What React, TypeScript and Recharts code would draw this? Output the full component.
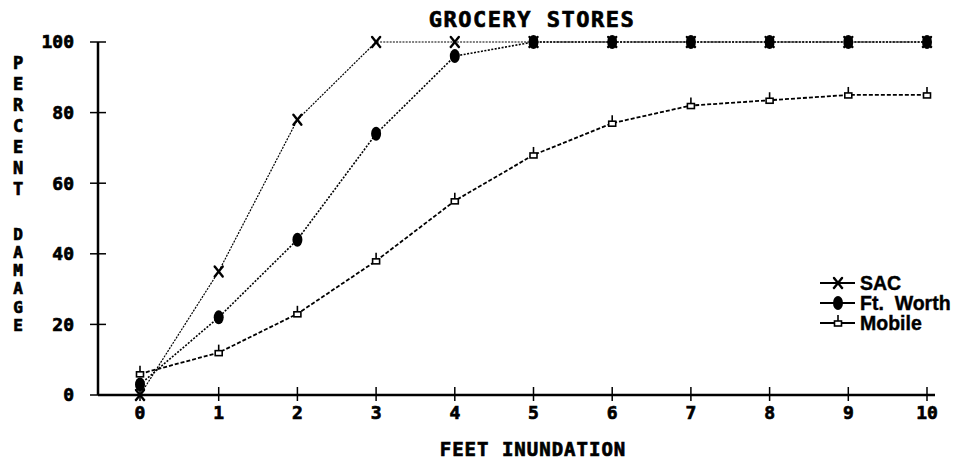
import React from "react";
import { LineChart, Line, XAxis, YAxis } from "recharts";

const feet = [0, 1, 2, 3, 4, 5, 6, 7, 8, 9, 10];
const sac = [0, 35, 78, 100, 100, 100, 100, 100, 100, 100, 100];
const ftWorth = [3, 22, 44, 74, 96, 100, 100, 100, 100, 100, 100];
const mobile = [6, 12, 23, 38, 55, 68, 77, 82, 83.5, 85, 85];
const yTicks = [0, 20, 40, 60, 80, 100];
const seriesNames = ["SAC", "Ft.  Worth", "Mobile"];

const chartData = feet.map((f, i) => ({
  feet: f,
  sac: sac[i],
  ftWorth: ftWorth[i],
  mobile: mobile[i],
}));

const MONO = "'DejaVu Sans Mono', monospace";
const SANS = "'Liberation Sans', Arial, sans-serif";

// heavy look of the old plotter font
const heavy = { fontWeight: "bold" as const, stroke: "#000", strokeWidth: 0.7, fill: "#000" };

const SacMarker = ({ cx, cy }: any) => (
  <g stroke="#000" strokeWidth={2.4} strokeLinecap="round">
    <line x1={cx - 4} y1={cy - 5} x2={cx + 4} y2={cy + 5} />
    <line x1={cx + 4} y1={cy - 5} x2={cx - 4} y2={cy + 5} />
  </g>
);

const WorthMarker = ({ cx, cy }: any) => (
  <ellipse cx={cx} cy={cy} rx={5} ry={7} fill="#000" />
);

const MobileMarker = ({ cx, cy }: any) => (
  <g stroke="#000" strokeWidth={1.6} fill="#fff">
    <line x1={cx} y1={cy - 8} x2={cx} y2={cy - 2} />
    <rect x={cx - 3.5} y={cy - 2} width={7} height={5} />
  </g>
);

const markers = [SacMarker, WorthMarker, MobileMarker];

const XTick = ({ x, y, payload }: any) => {
  const axisY = y - 10;
  return (
    <g>
      <line x1={x} y1={axisY - 8} x2={x} y2={axisY + 6} stroke="#000" strokeWidth={1.5} />
      <text x={x} y={y} dy="0.8em" textAnchor="middle" fontFamily={MONO} fontSize={18} {...heavy}>
        {payload.value}
      </text>
    </g>
  );
};

const YTick = ({ x, y, payload }: any) => {
  const axisX = x + 24;
  return (
    <g>
      <line x1={axisX - 8} y1={y} x2={axisX + 8} y2={y} stroke="#000" strokeWidth={1.5} />
      <text x={x} y={y} dy="0.36em" textAnchor="end" fontFamily={MONO} fontSize={18} {...heavy}>
        {payload.value}
      </text>
    </g>
  );
};

export default function App() {
  return (
    <div style={{ position: "absolute", left: 0, top: 0, width: 962, height: 471, background: "#fff" }}>
      <LineChart width={962} height={471} data={chartData} margin={{ top: 42, right: 27, bottom: 36, left: 0 }}>
        <XAxis
          type="number"
          dataKey="feet"
          domain={[0, 10]}
          ticks={feet}
          padding={{ left: 42, right: 8 }}
          tickLine={false}
          tickSize={6}
          tickMargin={4}
          height={40}
          axisLine={{ stroke: "#000", strokeWidth: 2.5 }}
          tick={<XTick />}
        />
        <YAxis
          domain={[0, 100]}
          ticks={yTicks}
          width={98}
          tickLine={false}
          tickSize={8}
          tickMargin={16}
          axisLine={{ stroke: "#000", strokeWidth: 2.5 }}
          tick={<YTick />}
        />
        <Line
          type="linear"
          dataKey="mobile"
          stroke="#000"
          strokeWidth={1.8}
          strokeDasharray="4 2"
          dot={(p: any) => <MobileMarker key={`m-${p.index}`} {...p} />}
          isAnimationActive={false}
        />
        <Line
          type="linear"
          dataKey="ftWorth"
          stroke="#000"
          strokeWidth={1.6}
          strokeDasharray="2 1.5"
          dot={(p: any) => <WorthMarker key={`w-${p.index}`} {...p} />}
          isAnimationActive={false}
        />
        <Line
          type="linear"
          dataKey="sac"
          stroke="#000"
          strokeWidth={1.2}
          strokeDasharray="2 1.2"
          dot={(p: any) => <SacMarker key={`s-${p.index}`} {...p} />}
          isAnimationActive={false}
        />
      </LineChart>
      <svg width={962} height={471} style={{ position: "absolute", left: 0, top: 0, pointerEvents: "none" }}>
        <text x={532} y={27} textAnchor="middle" fontFamily={MONO} fontSize={22} letterSpacing={1.5} {...heavy}>
          GROCERY STORES
        </text>
        <text x={533} y={456} textAnchor="middle" fontFamily={MONO} fontSize={19} letterSpacing={1} {...heavy}>
          FEET INUNDATION
        </text>
        {"PERCENT".split("").map((c, i) => (
          <text key={`p${i}`} x={18} y={63 + i * 21} dy="0.36em" textAnchor="middle" fontFamily={MONO} fontSize={17} {...heavy}>
            {c}
          </text>
        ))}
        {"DAMAGE".split("").map((c, i) => (
          <text key={`d${i}`} x={18} y={234 + i * 18.2} dy="0.36em" textAnchor="middle" fontFamily={MONO} fontSize={16} {...heavy}>
            {c}
          </text>
        ))}
        {seriesNames.map((name, i) => {
          const Marker = markers[i];
          const y = 283 + i * 20;
          return (
            <g key={name}>
              <line x1={820} y1={y} x2={855} y2={y} stroke="#000" strokeWidth={2} />
              <Marker cx={838} cy={y} />
              <text x={860} y={y} dy="0.36em" fontFamily={SANS} fontSize={19.5} style={{ whiteSpace: "pre" }} {...heavy} strokeWidth={0.4}>
                {name}
              </text>
            </g>
          );
        })}
      </svg>
    </div>
  );
}
